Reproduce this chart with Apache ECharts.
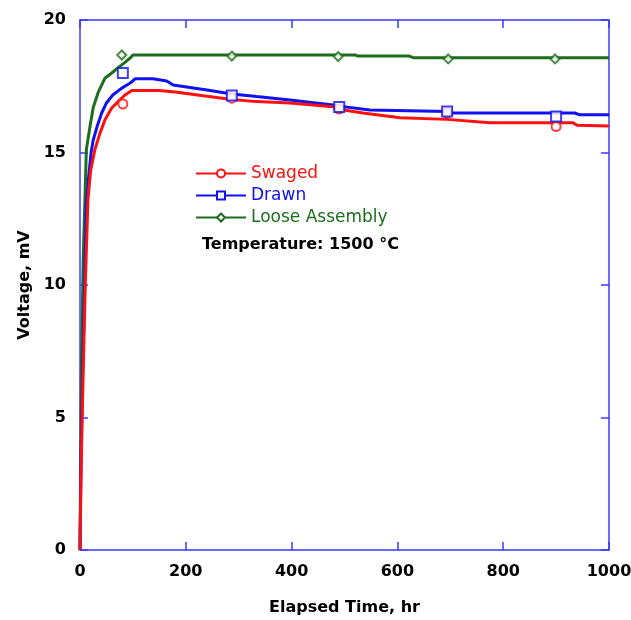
<!DOCTYPE html>
<html>
<head>
<meta charset="utf-8">
<script src="https://cdn.jsdelivr.net/npm/echarts@6/dist/echarts.min.js"></script>
<style>
  html, body { margin: 0; padding: 0; background: #fff; }
  #chart { width: 631px; height: 620px; }
</style>
</head>
<body>
<div id="chart"></div>
<script>
// curve readings [hours, mV]
var swagedCurve = [[0, 0], [2, 3.0], [6, 6.7], [10, 10], [15, 13.2], [20, 14.3], [28, 15.1], [38, 15.74],
    [47, 16.23], [60, 16.68], [72, 16.92], [85, 17.17], [98, 17.34], [150, 17.34], [180, 17.28], [240, 17.12],
    [287, 17.0], [334, 16.92], [397, 16.87], [478, 16.73], [490, 16.63], [535, 16.49], [605, 16.31],
    [694, 16.25], [775, 16.12], [932, 16.12], [940, 16.03], [1000, 16.0]];
var drawnCurve = [[0, 0], [2, 3.4], [5, 6.7], [9, 10], [12, 13], [16, 14], [21, 15.0], [25, 15.47], [32, 15.96],
    [41, 16.49], [50, 16.87], [62, 17.17], [79, 17.43], [95, 17.62], [104, 17.78], [138, 17.78], [164, 17.7],
    [176, 17.55], [240, 17.36], [287, 17.21], [334, 17.11], [397, 16.98], [478, 16.79], [490, 16.75],
    [548, 16.6], [694, 16.55], [700, 16.49], [935, 16.49], [945, 16.42], [1000, 16.42]];
var looseCurve = [[0, 0], [3, 7.3], [6, 10.9], [12, 15.1], [19, 16.0], [25, 16.7], [35, 17.3], [47, 17.8],
    [60, 18.0], [72, 18.2], [85, 18.4], [95, 18.57], [100, 18.68], [520, 18.68], [525, 18.64], [622, 18.64],
    [630, 18.58], [1000, 18.58]];

// marker readings
var swagedMarks = [[81, 16.83], [287, 17.05], [490, 16.64], [694, 16.5], [900, 15.98]];
var drawnMarks = [[81, 18.0], [287, 17.15], [490, 16.72], [694, 16.55], [900, 16.36]];
var looseMarks = [[79, 18.68], [287, 18.64], [488, 18.62], [696, 18.53], [898, 18.53]];

var seriesNames = ["Swaged", "Drawn", "Loose Assembly"];
var seriesColors = ["#ff1010", "#1010f0", "#1c6e1c"];
var seriesSymbols = ["emptyCircle", "emptyRect", "emptyDiamond"];
var xTicks = [0, 200, 400, 600, 800, 1000];
var yTicks = [0, 5, 10, 15, 20];

var axisBlue = "#3a3aff";
var fontFam = "DejaVu Sans";

var curves = [swagedCurve, drawnCurve, looseCurve];
var marks = [swagedMarks, drawnMarks, looseMarks];
var symSizes = [9, 10, 9];

var series = [];
seriesNames.forEach(function (name, i) {
    series.push({
        name: name, type: "line", data: curves[i], showSymbol: false,
        symbol: seriesSymbols[i], symbolSize: symSizes[i],
        lineStyle: {color: seriesColors[i], width: 3}, itemStyle: {color: seriesColors[i]},
        animation: false, z: 3 - i
    });
    series.push({
        name: name, type: "scatter", data: marks[i], symbol: seriesSymbols[i], symbolSize: symSizes[i],
        itemStyle: {color: seriesColors[i], borderColor: seriesColors[i], borderWidth: 1},
        animation: false, z: 5
    });
});

// shared frame axis look
var frameAxis = function (extra) {
    var base = {
        type: "value",
        axisLine: {show: true, onZero: false, lineStyle: {color: axisBlue, width: 1.5}},
        axisTick: {show: true, inside: true, length: 8, lineStyle: {color: axisBlue, width: 1.5}},
        axisLabel: {show: false},
        splitLine: {show: false}
    };
    return Object.assign(base, extra);
};
var labelStyle = {fontFamily: fontFam, fontWeight: "bold", fontSize: 16, color: "#000", margin: 14,
    formatter: function (v) { return String(v); }};
var nameStyle = {fontFamily: fontFam, fontWeight: "bold", fontSize: 16, color: "#000"};

var chart = echarts.init(document.getElementById("chart"));
chart.setOption({
    backgroundColor: "#fff",
    animation: false,
    grid: {left: 80, right: 22, top: 20, bottom: 70, outerBoundsMode: "none", containLabel: false},
    title: {
        text: "Temperature: 1500 °C", left: 197, top: 232,
        textStyle: {fontFamily: fontFam, fontWeight: "bold", fontSize: 16, color: "#000"}
    },
    legend: {
        orient: "vertical", left: 190, top: 160, itemWidth: 50, itemHeight: 10, itemGap: 5,
        textStyle: {fontFamily: fontFam, fontSize: 17},
        data: seriesNames.map(function (n, i) {
            return {name: n, textStyle: {color: seriesColors[i]}};
        })
    },
    xAxis: [frameAxis({
        position: "bottom", min: xTicks[0], max: xTicks[xTicks.length - 1], interval: 200,
        name: "Elapsed Time, hr", nameLocation: "middle", nameGap: 50, nameTextStyle: nameStyle,
        axisLabel: labelStyle
    }), frameAxis({
        position: "top", min: xTicks[0], max: xTicks[xTicks.length - 1], interval: 200
    })],
    yAxis: [frameAxis({
        position: "left", min: yTicks[0], max: yTicks[yTicks.length - 1], interval: 5,
        name: "Voltage, mV", nameLocation: "middle", nameGap: 45, nameTextStyle: nameStyle,
        axisLabel: labelStyle
    }), frameAxis({
        position: "right", min: yTicks[0], max: yTicks[yTicks.length - 1], interval: 5
    })],
    series: series
});
</script>
</body>
</html>
